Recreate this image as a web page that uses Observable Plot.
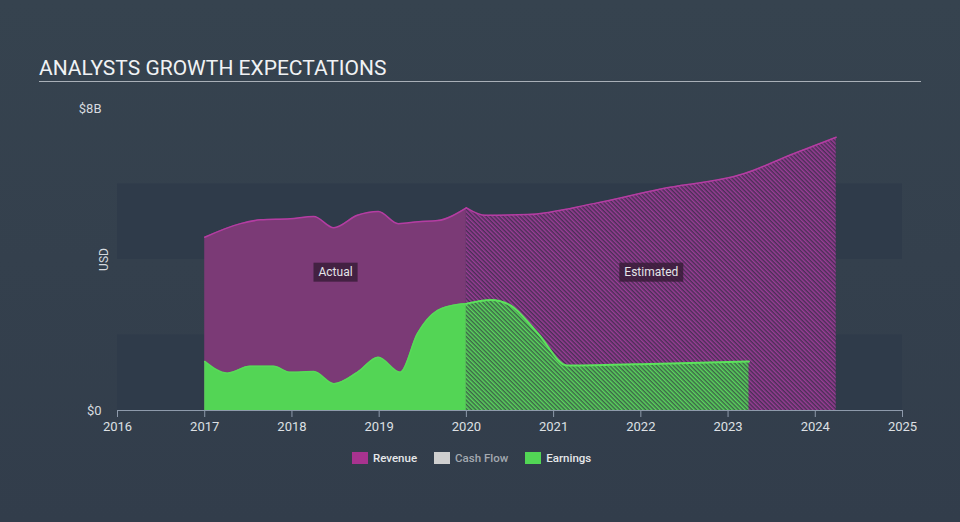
<!DOCTYPE html>
<html>
<head>
<meta charset="utf-8">
<script src="https://cdn.jsdelivr.net/npm/d3@7"></script>
<script src="https://cdn.jsdelivr.net/npm/@observablehq/plot@0.6"></script>
<style>
html, body { margin: 0; padding: 0; background: #344050; }
#wrap { position: relative; width: 960px; height: 522px; overflow: hidden; font-family: Roboto, "Noto Sans", sans-serif; background: linear-gradient(#36434f, #323d4b); }
#title { position: absolute; left: 39px; top: 56px; font-size: 21px; line-height: 24px; color: #f0f2f4; white-space: nowrap; }
#rule { position: absolute; left: 39px; top: 81px; width: 882px; height: 0; border-top: 1.5px solid #a9b0b8; }
#chart { position: absolute; left: 0; top: 90px; }
#legend { position: absolute; left: 352px; top: 451px; display: flex; align-items: center; font-size: 11.5px; font-weight: 500; white-space: nowrap; }
#legend .item { display: flex; align-items: center; margin-right: 17px; }
#legend .sw { width: 16px; height: 12px; margin-right: 5px; }
</style>
</head>
<body>
<svg width="0" height="0" style="position:absolute">
  <defs>
    <pattern id="hatchRev" patternUnits="userSpaceOnUse" width="3" height="3" patternTransform="rotate(-45)">
      <rect width="3" height="3" fill="#4a2f56"></rect>
      <rect width="1.5" height="3" fill="#9a3d96"></rect>
    </pattern>
    <pattern id="hatchEarn" patternUnits="userSpaceOnUse" width="3" height="3" patternTransform="rotate(-45)">
      <rect width="3" height="3" fill="#3d6648"></rect>
      <rect width="1.5" height="3" fill="#5ad55d"></rect>
    </pattern>
  </defs>
</svg>
<div id="wrap">
  <div id="title">ANALYSTS GROWTH EXPECTATIONS</div>
  <div id="rule"></div>
  <div id="chart"></div>
  <div id="legend"></div>
</div>
<script>
// ---- data (USD billions, fractional years) ----
const revActualX = [2017.0, 2017.41, 2017.64, 2017.98, 2018.25, 2018.48, 2018.75, 2018.99, 2019.22, 2019.45, 2019.67, 2020.0];
const revActualY = [4.59, 4.95, 5.05, 5.08, 5.14, 4.84, 5.17, 5.27, 4.95, 5.0, 5.03, 5.37];
const revEstX = [2020.0, 2020.22, 2020.7, 2021.46, 2022.23, 2023.18, 2023.75, 2024.24];
const revEstY = [5.37, 5.17, 5.19, 5.48, 5.87, 6.27, 6.80, 7.24];

const earnActualX = [2017.0, 2017.26, 2017.52, 2017.79, 2017.98, 2018.25, 2018.48, 2018.75, 2018.99, 2019.24, 2019.44, 2019.67, 2019.9, 2020.0];
const earnActualY = [1.30, 0.99, 1.17, 1.17, 1.01, 1.03, 0.71, 1.01, 1.41, 1.01, 2.04, 2.65, 2.81, 2.83];
const earnEstX = [2020.0, 2020.28, 2020.51, 2020.82, 2021.16, 2022.23, 2023.24];
const earnEstY = [2.83, 2.93, 2.78, 2.04, 1.19, 1.24, 1.30];

const xTicks = [2016, 2017, 2018, 2019, 2020, 2021, 2022, 2023, 2024, 2025];
const yTicks = [0, 8];
const bandLo = [0, 4];
const bandHi = [2, 6];

const phaseLabels = ["Actual", "Estimated"];
const phaseX = [2018.5, 2022.12];
const phaseY = [3.66, 3.66];

const legendNames = ["Revenue", "Cash Flow", "Earnings"];
const legendColors = ["#a8338f", "#cfcfcf", "#52d655"];
const legendText = ["#e6e8ea", "#a3a9b0", "#e6e8ea"];

// ---- tables ----
const zip = (xs, ys) => xs.map((x, i) => ({x, y: ys[i]}));
const revActual = zip(revActualX, revActualY);
const revEst = zip(revEstX, revEstY);
const earnActual = zip(earnActualX, earnActualY);
const earnEst = zip(earnEstX, earnEstY);
const bands = bandLo.map((lo, i) => ({lo, hi: bandHi[i]}));
const phases = phaseLabels.map((t, i) => ({t, x: phaseX[i], y: phaseY[i]}));

const curve = "monotone-x";
const chart = Plot.plot({
  width: 960,
  height: 350,
  marginLeft: 117,
  marginRight: 58,
  marginTop: 18,
  marginBottom: 30,
  style: {background: "transparent", color: "#d6dadf", fontSize: "12px", fontFamily: "Roboto, sans-serif"},
  x: {domain: [2016, 2025], label: null},
  y: {domain: [0, 8], label: null},
  marks: [
    Plot.rect(bands, {y1: "lo", y2: "hi", fill: "#2f3b4a"}),
    Plot.areaY(revActual, {x: "x", y: "y", curve, fill: "#7b3a76"}),
    Plot.areaY(revEst, {x: "x", y: "y", curve, fill: "url(#hatchRev)"}),
    Plot.lineY(revActual, {x: "x", y: "y", curve, stroke: "#b43da2", strokeWidth: 1.5}),
    Plot.lineY(revEst, {x: "x", y: "y", curve, stroke: "#b43da2", strokeWidth: 1.5}),
    Plot.areaY(earnActual, {x: "x", y: "y", curve, fill: "#53d555"}),
    Plot.areaY(earnEst, {x: "x", y: "y", curve, fill: "url(#hatchEarn)"}),
    Plot.lineY(earnActual, {x: "x", y: "y", curve, stroke: "#58da59", strokeWidth: 1.5}),
    Plot.lineY(earnEst, {x: "x", y: "y", curve, stroke: "#5ce35c", strokeWidth: 2}),
    Plot.ruleY([0], {stroke: "#8e9aab", strokeWidth: 1.2}),
    Plot.axisX({ticks: xTicks, tickFormat: d => String(d), tickSize: 7, tickPadding: 4, stroke: "#8e9aab", color: "#dde0e4", fontSize: 13}),
    Plot.axisY({ticks: yTicks, tickFormat: d => d === 0 ? "$0" : `$${d}B`, tickSize: 0, tickPadding: 16, color: "#d6dadf", fontSize: 13}),
    Plot.text(["USD"], {text: d => d, frameAnchor: "left", textAnchor: "middle", rotate: -90, dx: -13, fill: "#d6dadf", fontSize: 12}),
    Plot.text(phases, {x: "x", y: "y", text: "t", fill: "#e4e4e8", fontSize: 12})
  ]
});
document.getElementById("chart").append(chart);

// dark boxes behind the phase labels
chart.querySelectorAll("text").forEach(t => {
  if (!phaseLabels.includes(t.textContent)) return;
  const b = t.getBBox();
  const r = document.createElementNS("http://www.w3.org/2000/svg", "rect");
  r.setAttribute("x", b.x - 5);
  r.setAttribute("y", b.y - 2.5);
  r.setAttribute("width", b.width + 10);
  r.setAttribute("height", b.height + 5);
  r.setAttribute("fill", "#3a1d3a");
  r.setAttribute("fill-opacity", "0.85");
  if (t.getAttribute("transform")) r.setAttribute("transform", t.getAttribute("transform"));
  t.parentNode.insertBefore(r, t);
});

// legend
const lg = document.getElementById("legend");
legendNames.forEach((n, i) => {
  const it = document.createElement("div");
  it.className = "item";
  it.innerHTML = `<div class="sw" style="background:${legendColors[i]}"></div><span style="color:${legendText[i]}">${n}</span>`;
  lg.append(it);
});
</script>
</body>
</html>
